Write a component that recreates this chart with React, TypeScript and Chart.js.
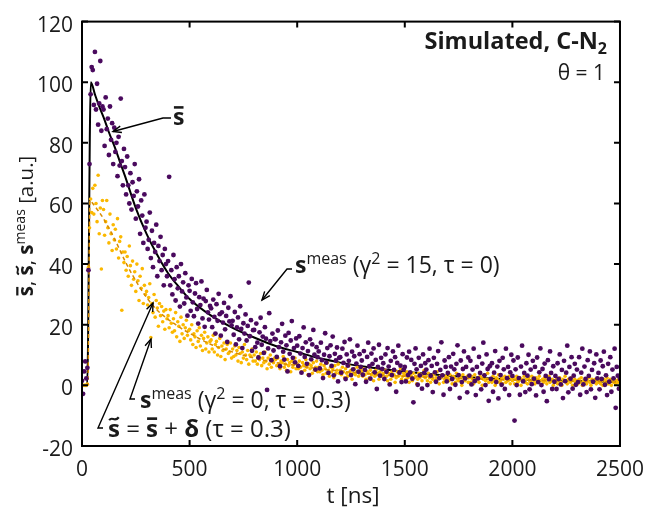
import React, { useEffect, useRef } from "react";
import { Chart, registerables } from "chart.js";
Chart.register(...registerables);

// sampling step of the simulated signals [ns]
const T_STEP = 5;

// s^meas (gamma^2 = 15, tau = 0)  -- purple points, t = 0..2500 step 5
const S_MEAS_G15 = [
  1.5, -2.8, 4.6, 7.9, 2.3, 5.8, 38, 73, 96, 105, 104, 92.5, 110, 91, 99.5, 86, 93, 107, 84, 92,
  91, 79, 95, 84.5, 88, 76, 92, 81, 86.5, 73, 85, 77, 80, 69, 82, 72.5, 94.6, 74, 66, 78,
  72, 63, 75.5, 66, 60, 70, 58, 67, 62.5, 73, 55, 64, 59, 68, 50, 61, 56, 47, 63, 52,
  54, 45, 48, 57, 42, 51, 39, 47, 44, 53, 36, 46, 41, 49, 38, 43, 33, 45, 40, 36,
  41, 68.8, 33, 38, 30, 43, 35, 28, 39, 32, 36, 26, 40, 31, 34, 27, 37, 29, 23, 33,
  31.2, 24.6, 35.1, 27.4, 22.8, 30.3, 33.7, 25.2, 20.4, 29.1, 26.5, 34.3, 22.1, 28.6, 19.3, 27.8, 31.5, 24.1, 21.7, 26.2,
  25.4, 19.2, 28.3, 22.6, 17.1, 26.8, 21.3, 30.2, 23.5, 16.4, 24.1, 20.7, 27.2, 18.5, 22.9, 14.3, 25.6, 21.1, 29.4, 19.8,
  21.3, 16.7, 24.2, 13.5, 19.1, 22.4, 15.2, 26.1, 18.6, 12.3, 20.5, 17.1, 23.4, 14.8, 19.6, 33.9, 16.2, 21.5, 11.4, 18.2,
  18.3, 12.6, 20.4, 14.1, 9.2, 17.5, 22.3, 13.4, 16.1, 10.7, 19.2, 15.4, -1.5, 12.2, 23.8, 14.6, 8.3, 17.1, 11.5, 15.3,
  15.2, 9.4, 18.1, 12.6, 6.3, 14.2, 20.3, 11.1, 8.5, 16.4, 13.2, 4.6, 17.3, 10.4, 14.8, 21.2, 9.1, 12.3, 7.6, 15.5,
  13.1, 6.4, 16.2, 10.5, 4.2, 12.3, 19.1, 9.4, 14.2, 7.1, 11.3, 3.4, 15.2, 8.6, 13.5, 18.3, 10.1, 5.2, 12.6, 9.3,
  11.2, 5.6, 14.1, 8.3, 2.4, 10.1, 17.2, 7.5, 12.3, 4.1, 9.6, 13.2, 6.4, 16.1, 3.3, 10.4, 8.2, 12.5, 1.3, 9.1,
  9.3, 4.2, 12.1, 7.4, 14.3, 2.1, 10.2, 6.5, 8.1, 15.2, 3.4, 11.1, 5.3, 9.6, 0.4, 7.2, 13.1, 4.5, 10.3, 6.1,
  8.2, 3.5, 11.3, 5.1, 1.2, 9.4, 14.1, 6.3, 2.2, 10.5, 7.1, 12.2, 4.3, 8.4, -1.2, 6.1, 13.4, 3.2, 9.1, 5.4,
  7.3, 2.1, 10.2, 4.5, 12.3, 6.2, 0.3, 8.1, 3.4, 11.2, 5.1, 9.3, -2.1, 7.4, 13.1, 4.2, 6.5, 1.1, 10.3, 5.2,
  6.1, 1.3, 9.2, 3.4, 11.1, 4.3, 8.4, 2.2, -5.6, 7.1, 12.2, 5.3, 0.2, 9.1, 3.3, 6.4, -1.1, 10.2, 4.1, 7.3,
  5.2, 0.1, 8.3, 12.1, 3.2, 6.4, -2.2, 9.1, 4.3, 1.2, 7.1, 11.3, 2.4, 5.1, 14.2, 3.3, -3.1, 8.2, 6.1, 1.3,
  4.1, 9.3, -1.2, 6.2, 2.1, 10.4, 5.3, 0.2, 7.1, 13.2, 3.4, -4.1, 8.2, 1.1, 5.4, 11.2, 2.3, 6.1, -2.3, 9.2,
  3.2, 8.1, 0.3, 5.2, 12.1, 1.4, -3.2, 6.1, 2.3, 9.4, 4.1, -1.3, 7.2, 14.1, 3.3, 0.1, 10.2, 5.4, -5.1, 6.3,
  2.1, 7.3, -2.1, 4.2, 11.3, 1.1, 6.2, -4.3, 8.1, 3.4, 0.2, 9.1, 5.3, -1.2, 12.1, 2.4, 6.1, -3.2, 4.3, 10.1,
  3.1, 8.2, -11.6, 5.3, 0.1, 9.2, 2.4, -3.1, 6.2, 13.1, 1.3, 4.1, -2.2, 7.3, 3.2, 10.1, -1.3, 5.2, 0.4, 8.1,
  2.2, 6.1, -3.3, 9.2, 1.1, 4.3, 12.2, 0.1, 5.4, -2.1, 7.2, 3.1, -5.2, 8.3, 2.1, 11.2, 4.1, -1.2, 6.3, 1.2,
  3.1, -1.2, 7.3, 2.1, 10.2, 0.3, 5.1, -4.2, 8.1, 1.4, 4.2, 13.1, -2.3, 6.1, 2.2, 9.3, -1.1, 3.2, 7.1, 0.2,
  5.2, 1.1, 9.3, -3.1, 4.2, 12.1, 0.3, 6.2, 2.1, -2.2, 8.3, 3.1, 11.2, -1.3, 5.1, 1.2, 7.3, -4.1, 10.2, 2.3,
  4.1, -1.3, 8.2, 2.1, 6.3, 11.1, 0.2, 3.3, -3.2, 7.1, 1.2, 9.3, -2.1, 5.2, 2.3, 12.1, -7.4, 6.1, 3.2, -1.1,
  2.1,
];

// s^meas (gamma^2 = 0, tau = 0.3)  -- yellow points, t = 0..2500 step 5
const S_MEAS_G0 = [
  0, 0, 0, 0, 0, 0.4, 39, 52, 61.5, 57, 65, 56.5, 66, 60, 54, 69.3, 50, 58.5, 38.4, 61,
  58, 49.5, 54, 61, 52, 47, 56.5, 50, 44.5, 53, 48, 51.5, 45, 55, 42, 47.5, 49, 24.8, 44, 40.5,
  44, 38, 42.5, 36, 46, 39.5, 33, 41, 35, 37.5, 31, 40, 34.5, 28, 36, 32, 38.5, 27, 33, 30,
  31, 26.5, 29, 33.5, 15.8, 27, 24, 30, 22.5, 28, 25.5, 19.5, 27, 23, 26, 21, 24.5, 18.5, 25, 22,
  23, 19, 25, 20.5, 17.5, 22, 18, 24, 16, 21, 19.5, 14.5, 22.5, 17, 20, 15.5, 19, 21.5, 16.5, 18,
  18.5, 15, 20, 13.5, 17, 16, 12.5, 18, 14.5, 19, 13, 16.5, 11.5, 15.5, 17.5, 12, 14, 16, 11, 14.5,
  15, 12, 16.5, 11, 13.5, 14.5, 10, 12.5, 15.5, 9.5, 13, 11.5, 14, 8.5, 12, 13.5, 10.5, 11, 14, 9,
  12, 9.5, 13, 10, 11.5, 8, 12.5, 10.5, 7.5, 11, 9, 13.5, 10, 8.5, 11.5, 7, 10, 9.5, 12, 8,
  10, 8, 11, 7, 9.5, 8.5, 10.5, 6.5, 9, 7.5, 11, 8, 5.5, 9, 7, 10, 6, 8.5, 7.5, 9,
  8.5, 6.5, 9, 7, 5.5, 8, 7.5, 9.5, 6, 7, 5, 8.5, 6.5, 7.5, 4.5, 8, 6, 7, 9, 5.5,
  7, 5.5, 8, 6, 4.5, 7.5, 6.5, 5, 8.5, 6, 3.5, 7, 5.5, 6.5, 4, 7.5, 5, 6, 8, 4.5,
  6, 4.5, 7, 5, 3.5, 6.5, 5.5, 4, 7.5, 5, 3, 6, 4.5, 5.5, 2.5, 6.5, 4, 5, 7, 4,
  5, 3.5, 6, 4.5, 2.5, 5.5, 4, 3, 6.5, 4.5, 5, 2, 4, 5.5, 3.5, 4.5, 6, 3, 4, 5,
  4.5, 3, 5.5, 3.5, 2, 4.5, 4, 2.5, 5, 3.5, 4, 1.5, 3, 5, 3.5, 4, 2, 4.5, 3, 3.5,
  4, 2.5, 5, 3, 1.5, 4, 3.5, 2, 4.5, 3, 3.5, 1, 2.5, 4.5, 3, 3.5, 5.5, 2, 3, 4,
  3.5, 2, 4.5, 2.5, 1, 3.5, 3, 1.5, 4, 2.5, 3, 0.5, 2, 4, 2.5, 3.5, 1.5, 3, 5, 2.5,
  3, 1.5, 4, 2.5, 1, 3, 2, 3.5, 1.5, 2.5, 4.5, 2, 0.5, 3, 2.5, 3.5, 1, 2, 3, 2.5,
  2.5, 1.5, 3.5, 2, 0.5, 3, 2.5, 1, 4, 2, 1.5, 3, 2.5, 0, 3.5, 2, 1.5, 2.5, 3, 1,
  2.5, 1, 3, 2, 0.5, 3.5, 1.5, 2.5, 2, 1, 3, 2.5, 0, 2, 3.5, 1.5, 2, 4, 1, 2,
  2, 1, 3, 1.5, 0, 2.5, 2, 3.5, 1, 1.5, 2.5, 0.5, 2, 3, 1, 2, 1.5, 3, 0.5, 2,
  1.5, 2.5, 0.5, 2, 3, 1, 1.5, 2.5, 0, 2, 1.5, 3, 1, 2, 0.5, 2.5, 1.5, 1, 3, 2,
  1.5, 0.5, 2.5, 1, 2, 3, 1.5, 0, 2, 1, 2.5, 1.5, 0.5, 2, 3, 1, 1.5, 2, 0, 1.5,
  1, 2, 0.5, 1.5, 2.5, 1, 0, 2, 1.5, 3, 1, 0.5, 2, 1.5, 1, 2.5, 0, 1.5, 2, 1,
  1.5, 0.5, 2, 1, 2.5, 0, 1.5, 1, 2, 0.5, 1.5, 2.5, 1, 0, 2, 1.5, 1, 2, 0.5, 1.5,
  1, 2, 0.5, 1.5, 0, 2, 1, 1.5, 2.5, 0.5, 1, 2, 0, 1.5, 1, 2, 0.5, 1.5, 1, 2,
  1,
];

// s-bar (true signal) -- black line
const SBAR_T = [20, 24, 41, 60, 80, 100, 125, 150, 175, 200, 250, 300, 350, 400, 450, 500, 600, 700, 800, 900, 1000, 1100, 1200, 1300, 1400, 1500, 1600, 1700, 1800, 1900, 2000, 2100, 2200, 2300, 2400, 2500];
const SBAR_V = [0, 0, 100, 96, 92, 88.5, 83.5, 79, 74, 69, 58.5, 50, 43, 37, 32.5, 28.5, 23, 19, 15.8, 13, 11, 9, 7.5, 6.3, 5.3, 4.5, 3.8, 3.2, 2.7, 2.3, 2.0, 1.8, 1.6, 1.45, 1.25, 1.1];

// s-tilde = s-bar + delta (tau = 0.3) -- dashed yellow line
const STIL_T = [20, 27, 37, 50, 100, 150, 200, 250, 300, 350, 400, 450, 500, 600, 700, 800, 900, 1000, 1100, 1200, 1300, 1400, 1500, 1700, 2000, 2500];
const STIL_V = [0, 0, 61, 60, 55, 48.5, 41, 34.5, 29, 24.8, 21.8, 19.3, 17.2, 13.5, 11, 9, 7.5, 6.5, 5.5, 4.7, 4, 3.4, 3, 2.4, 1.8, 1.1];

const X_MIN = 0, X_MAX = 2500, X_STEP = 500;
const Y_MIN = -20, Y_MAX = 120, Y_STEP = 20;

const PURPLE = "#4a0a5e";
const YELLOW = "#fbb800";
const YELLOW_LINE = "#d98c00";
const FAMILY = '"Open Sans", "DejaVu Sans", sans-serif';
const TXT = "#1a1a1a";

type Part = { t: string; b?: boolean; sup?: boolean; sub?: boolean; deco?: "bar" | "tilde" };

function fontOf(p: Part, size: number) {
  const s = p.sup || p.sub ? Math.round(size * 0.68) : size;
  return `${p.b ? "bold " : ""}${s}px ${FAMILY}`;
}

function drawRich(ctx: CanvasRenderingContext2D, parts: Part[], x: number, y: number, size: number, align: "left" | "right" | "center") {
  ctx.textAlign = "left";
  ctx.textBaseline = "alphabetic";
  const widths = parts.map((p) => {
    ctx.font = fontOf(p, size);
    return ctx.measureText(p.t).width;
  });
  const total = widths.reduce((a, b) => a + b, 0);
  let cx = align === "right" ? x - total : align === "center" ? x - total / 2 : x;
  parts.forEach((p, i) => {
    ctx.font = fontOf(p, size);
    const dy = p.sup ? -size * 0.4 : p.sub ? size * 0.22 : 0;
    ctx.fillText(p.t, cx, y + dy);
    const w = widths[i];
    if (p.deco === "bar") {
      ctx.fillRect(cx + w * 0.08, y - size * 0.82, w * 0.84, size * 0.11);
    } else if (p.deco === "tilde") {
      const ty = y - size * 0.76;
      ctx.save();
      ctx.lineWidth = size * 0.09;
      ctx.strokeStyle = ctx.fillStyle as string;
      ctx.beginPath();
      ctx.moveTo(cx + w * 0.1, ty + 1.5);
      ctx.bezierCurveTo(cx + w * 0.35, ty - 3, cx + w * 0.55, ty + 4, cx + w * 0.9, ty - 1.5);
      ctx.stroke();
      ctx.restore();
    }
    cx += w;
  });
}

function arrow(ctx: CanvasRenderingContext2D, pts: number[][]) {
  ctx.save();
  ctx.strokeStyle = "#000";
  ctx.lineWidth = 1.4;
  ctx.beginPath();
  ctx.moveTo(pts[0][0], pts[0][1]);
  for (let i = 1; i < pts.length; i++) ctx.lineTo(pts[i][0], pts[i][1]);
  ctx.stroke();
  const [x1, y1] = pts[pts.length - 2];
  const [x2, y2] = pts[pts.length - 1];
  const a = Math.atan2(y2 - y1, x2 - x1);
  const L = 9, s = 0.38;
  ctx.beginPath();
  ctx.moveTo(x2 - L * Math.cos(a - s), y2 - L * Math.sin(a - s));
  ctx.lineTo(x2, y2);
  ctx.lineTo(x2 - L * Math.cos(a + s), y2 - L * Math.sin(a + s));
  ctx.stroke();
  ctx.restore();
}

const framePlugin = {
  id: "frame",
  afterDraw(chart: any) {
    const ctx: CanvasRenderingContext2D = chart.ctx;
    const { left, right, top, bottom } = chart.chartArea;
    const xs = chart.scales.x, ys = chart.scales.y;
    ctx.save();
    ctx.strokeStyle = "#000";
    ctx.lineWidth = 2;
    ctx.strokeRect(left, top, right - left, bottom - top);
    const tl = 6;
    ctx.beginPath();
    for (let v = X_MIN; v <= X_MAX; v += X_STEP) {
      const px = xs.getPixelForValue(v);
      ctx.moveTo(px, bottom); ctx.lineTo(px, bottom - tl);
      ctx.moveTo(px, top); ctx.lineTo(px, top + tl);
    }
    for (let v = Y_MIN; v <= Y_MAX; v += Y_STEP) {
      const py = ys.getPixelForValue(v);
      ctx.moveTo(left, py); ctx.lineTo(left + tl, py);
      ctx.moveTo(right, py); ctx.lineTo(right - tl, py);
    }
    ctx.stroke();

    ctx.fillStyle = TXT;
    // top-right labels
    drawRich(ctx, [{ t: "Simulated, C-N", b: true }, { t: "2", b: true, sub: true }], 607, 49, 23.5, "right");
    drawRich(ctx, [{ t: "θ = 1" }], 605, 80, 21, "right");

    // annotations
    drawRich(ctx, [{ t: "s", b: true, deco: "bar" }], 173, 125, 23, "left");
    arrow(ctx, [[171, 118], [163, 118], [113, 131.5]]);

    drawRich(ctx, [{ t: "s", b: true }, { t: "meas", sup: true }, { t: " (γ" }, { t: "2", sup: true }, { t: " = 15, τ = 0)" }], 295, 273, 23, "left");
    arrow(ctx, [[292, 269], [287, 269], [262, 300]]);

    drawRich(ctx, [{ t: "s", b: true }, { t: "meas", sup: true }, { t: " (γ" }, { t: "2", sup: true }, { t: " = 0, τ = 0.3)" }], 140, 408, 23, "left");
    arrow(ctx, [[135, 399], [130, 399], [151, 339]]);

    drawRich(ctx, [{ t: "s", b: true, deco: "tilde" }, { t: " = " }, { t: "s", b: true, deco: "bar" }, { t: " + " }, { t: "δ", b: true }, { t: " (τ = 0.3)" }], 108, 437, 24, "left");
    arrow(ctx, [[103, 428], [98, 428], [153, 303]]);

    // axis titles
    drawRich(ctx, [{ t: "t [ns]" }], (left + right) / 2 + 2, 503, 22.5, "center");
    ctx.save();
    ctx.translate(33, 226);
    ctx.rotate(-Math.PI / 2);
    drawRich(ctx, [{ t: "s", b: true, deco: "bar" }, { t: ", " }, { t: "s", b: true, deco: "tilde" }, { t: ", " }, { t: "s", b: true }, { t: "meas", sup: true }, { t: " [a.u.]" }], 0, 0, 20.5, "center");
    ctx.restore();
    ctx.restore();
  },
};

export default function App() {
  const ref = useRef<HTMLCanvasElement>(null);
  useEffect(() => {
    if (!ref.current) return;
    const tickFont = { family: FAMILY, size: 21 };
    const chart = new Chart(ref.current, {
      type: "scatter",
      data: {
        datasets: [
          {
            label: "s_meas_g15",
            data: S_MEAS_G15.map((y, i) => ({ x: i * T_STEP, y })),
            showLine: false,
            pointRadius: 2.4,
            pointBorderWidth: 0,
            pointBackgroundColor: PURPLE,
            order: 1,
          },
          {
            label: "s_tilde",
            data: STIL_T.map((x, i) => ({ x, y: STIL_V[i] })),
            showLine: true,
            pointRadius: 0,
            borderColor: YELLOW_LINE,
            borderWidth: 1.5,
            borderDash: [4, 3],
            cubicInterpolationMode: "monotone",
            order: 2,
          },
          {
            label: "s_meas_g0",
            data: S_MEAS_G0.map((y, i) => ({ x: i * T_STEP, y })),
            showLine: false,
            pointRadius: 1.8,
            pointBorderWidth: 0,
            pointBackgroundColor: YELLOW,
            order: 3,
          },
          {
            label: "s_bar",
            data: SBAR_T.map((x, i) => ({ x, y: SBAR_V[i] })),
            showLine: true,
            pointRadius: 0,
            borderColor: "#000",
            borderWidth: 2,
            cubicInterpolationMode: "monotone",
            order: 4,
          },
        ],
      },
      options: {
        responsive: false,
        animation: false,
        layout: { padding: { left: 0, top: 15, right: 28, bottom: 0 } },
        plugins: { legend: { display: false }, tooltip: { enabled: false } },
        scales: {
          x: {
            type: "linear",
            min: X_MIN,
            max: X_MAX,
            ticks: { stepSize: X_STEP, font: tickFont, color: TXT, padding: 11, maxRotation: 0, callback: (v: any) => String(v) },
            grid: { display: false, drawTicks: false },
            border: { display: false },
            afterFit: (s: any) => { s.height = 71; },
          },
          y: {
            type: "linear",
            min: Y_MIN,
            max: Y_MAX,
            ticks: { stepSize: Y_STEP, font: tickFont, color: TXT, padding: 9, labelOffset: 4, callback: (v: any) => String(v) },
            grid: { display: false, drawTicks: false },
            border: { display: false },
            afterFit: (s: any) => { s.width = 82; },
          },
        },
      },
      plugins: [framePlugin],
    });
    return () => chart.destroy();
  }, []);
  return (
    <div style={{ position: "fixed", left: 0, top: 0, width: 655, height: 517, background: "#fff" }}>
      <canvas ref={ref} width={655} height={517} />
    </div>
  );
}
